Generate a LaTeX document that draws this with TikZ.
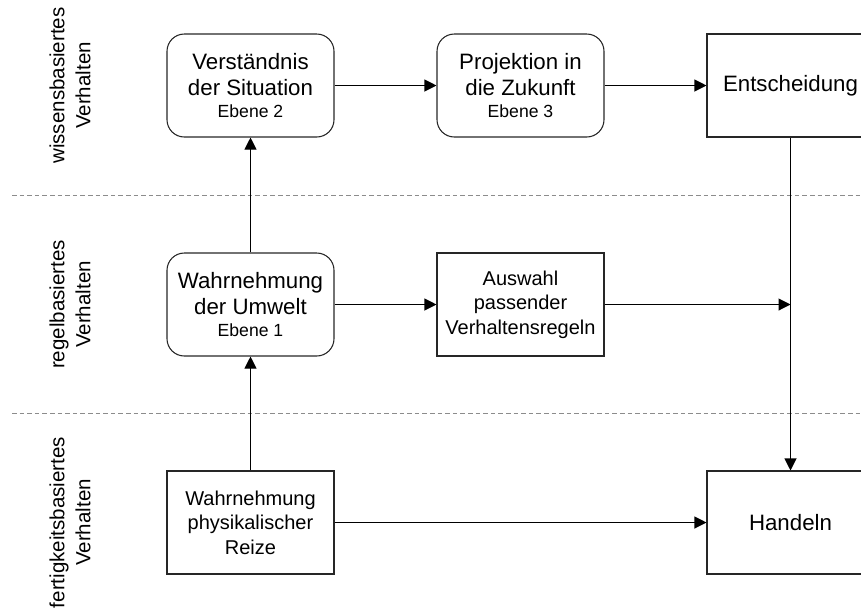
\documentclass[tikz,border=0pt]{standalone}
\usepackage{fontspec}
\setmainfont{Liberation Sans}
\usetikzlibrary{arrows.meta}
\begin{document}
\begin{tikzpicture}[x=0.75pt,y=-0.75pt,
  box/.style={draw=black!85, line width=0.8pt, minimum width=125.25pt, minimum height=77.25pt,
    align=center, inner sep=2pt, font=\fontsize{16.7}{19.5}\selectfont},
  rbox/.style={box, rounded corners=13pt},
  sbox/.style={box, font=\fontsize{15}{18.4}\selectfont},
  level/.style={rotate=90, align=center, font=\fontsize{15.4}{19.5}\selectfont},
  sep/.style={draw=black!45, line width=0.6pt, dash pattern=on 3.5pt off 2.2pt},
  flow/.style={draw=black, line width=0.8pt, -{Triangle[length=9pt,width=9pt]}}]
  \newcommand\ebene[1]{\\[-3pt]{\fontsize{13.2}{15.8}\selectfont Ebene #1}}
  \useasboundingbox (0,0) rectangle (861,608);

  % layer separators
  \coordinate (s1a) at (12,195);   \coordinate (s1b) at (861,195);
  \coordinate (s2a) at (12,413);   \coordinate (s2b) at (861,413);
  \draw[sep] (s1a) -- (s1b);
  \draw[sep] (s2a) -- (s2b);

  % behaviour levels
  \node[level] (lw) at (70,85.5) {wissensbasiertes\\Verhalten};
  \node[level] (lr) at (70,304.5) {regelbasiertes\\Verhalten};
  \node[level] (lf) at (70,522.5) {fertigkeitsbasiertes\\Verhalten};

  % process steps
  \node[rbox] (vs) at (250.5,85.5) {Verständnis\\der Situation\ebene{2}};
  \node[rbox] (pz) at (520.5,85.5) {Projektion in\\die Zukunft\ebene{3}};
  \node[box]  (en) at (790.5,85.5) {Entscheidung};
  \node[rbox] (wu) at (250.5,304.5) {Wahrnehmung\\der Umwelt\ebene{1}};
  \node[sbox] (av) at (520.5,304.5) {Auswahl\\passender\\Verhaltensregeln};
  \node[sbox] (wp) at (250.5,522.5) {Wahrnehmung\\physikalischer\\Reize};
  \node[box]  (ha) at (790.5,522.5) {Handeln};

  % connectors
  \draw[flow] (wp) -- (wu);
  \draw[flow] (wu) -- (vs);
  \draw[flow] (vs) -- (pz);
  \draw[flow] (pz) -- (en);
  \draw[flow] (wu) -- (av);
  \draw[flow] (en) -- (ha);
  \coordinate (j) at (790.5,304.5);
  \draw[flow] (av) -- (j);
  \draw[flow] (wp) -- (ha);
\end{tikzpicture}
\end{document}
